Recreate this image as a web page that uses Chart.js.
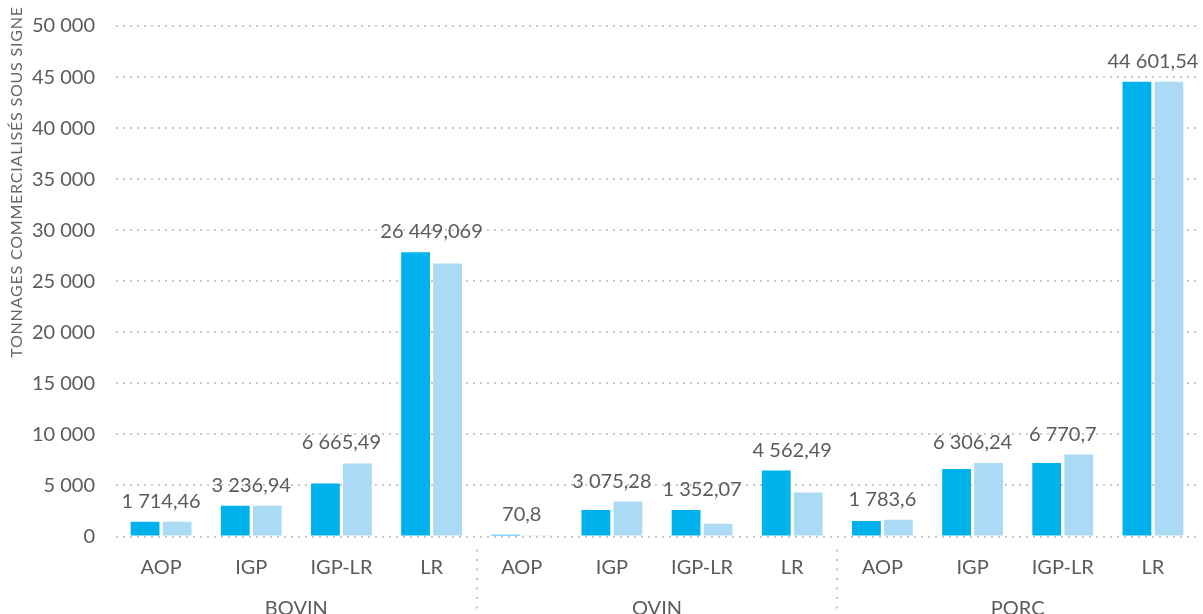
<!DOCTYPE html>
<html><head><meta charset="utf-8">
<script src="https://cdn.jsdelivr.net/npm/chart.js@4"></script>
<style>html,body{margin:0;padding:0;background:#fff}canvas{display:block}</style>
</head><body>
<canvas id="c" width="1203" height="614"></canvas>
<script>
const categories = ['AOP','IGP','IGP-LR','LR','AOP','IGP','IGP-LR','LR','AOP','IGP','IGP-LR','LR'];
const groups = ['BOVIN','OVIN','PORC'];
const seriesDark  = [1450, 3000, 5180, 27850, 180, 2600, 2600, 6460, 1520, 6620, 7210, 44550];
const seriesLight = [1450, 3000, 7150, 26740, 70, 3420, 1250, 4300, 1650, 7210, 8030, 44550];
const valueLabels = [1714.46, 3236.94, 6665.49, 26449.069, 70.8, 3075.28, 1352.07, 4562.49, 1783.6, 6306.24, 6770.7, 44601.54];
const yTickValues = [0, 5000, 10000, 15000, 20000, 25000, 30000, 35000, 40000, 45000, 50000];
const yTitle = 'TONNAGES COMMERCIALISÉS SOUS SIGNE';

const FONT = 'Lato';
const FS = 20;
const TEXT = '#5b5b5b';

function frNum(v){
  const s = String(v).split('.');
  const int = s[0].replace(/\B(?=(\d{3})+(?!\d))/g, ' ');
  return s.length > 1 ? int + ',' + s[1] : int;
}

const labelPlugin = {
  id: 'valueLabels',
  afterDatasetsDraw(chart){
    const ctx = chart.ctx;
    const m0 = chart.getDatasetMeta(0), m1 = chart.getDatasetMeta(1);
    ctx.save();
    ctx.font = FS + 'px ' + FONT;
    ctx.fillStyle = TEXT;
    ctx.textAlign = 'center';
    ctx.textBaseline = 'alphabetic';
    valueLabels.forEach((v,i)=>{
      const b0 = m0.data[i], b1 = m1.data[i];
      const top = Math.min(b0.y, b1.y);
      const x = (b0.x + b1.x)/2;
      ctx.fillText(frNum(v), x, top - 14);
    });
    ctx.restore();
  }
};

const decorPlugin = {
  id: 'decor',
  afterDraw(chart){
    const ctx = chart.ctx;
    const xs = chart.scales.x;
    ctx.save();
    ctx.strokeStyle = '#c4c4c4';
    ctx.lineWidth = 2;
    ctx.setLineDash([2, 7.5]);
    [4, 8].forEach(i=>{
      const x = Math.round((xs.getPixelForTick(i-1) + xs.getPixelForTick(i))/2);
      ctx.beginPath();
      ctx.moveTo(x, xs.top + 13);
      ctx.lineTo(x, chart.height);
      ctx.stroke();
    });
    ctx.setLineDash([]);
    ctx.translate(17, 182);
    ctx.rotate(-Math.PI/2);
    ctx.font = '16px ' + FONT;
    ctx.letterSpacing = '0.8px';
    ctx.fillStyle = '#666';
    ctx.textAlign = 'center';
    ctx.textBaseline = 'middle';
    ctx.fillText(yTitle, 0, 0);
    ctx.restore();
  }
};

new Chart(document.getElementById('c'), {
  type: 'bar',
  data: {
    labels: categories,
    datasets: [
      { label: 'A', data: seriesDark, backgroundColor: '#00B2EB', categoryPercentage: 0.71, barPercentage: 0.9 },
      { label: 'B', data: seriesLight, backgroundColor: '#ABDAF5', categoryPercentage: 0.71, barPercentage: 0.9 }
    ]
  },
  options: {
    responsive: false,
    animation: false,
    layout: { padding: { top: 26, right: 5, left: 0, bottom: 0 } },
    plugins: { legend: { display: false }, tooltip: { enabled: false } },
    scales: {
      y: {
        min: 0, max: 50000,
        afterBuildTicks(s){ s.ticks = yTickValues.map(v=>({value: v})); },
        afterFit(s){ s.width = 116; s.paddingTop = 0; s.paddingBottom = 0; },
        border: { display: false, dash: [2, 5] },
        grid: { color: '#c8c8c8', lineWidth: 2, drawTicks: false },
        ticks: { padding: 21, color: TEXT, font: { family: FONT, size: FS }, callback: v => frNum(v) }
      },
      x: {
        border: { display: false },
        grid: { display: false },
        afterFit(s){ s.height = 48; },
        ticks: { padding: 11, color: TEXT, font: { family: FONT, size: FS }, autoSkip: false, maxRotation: 0 }
      },
      x2: {
        type: 'category',
        labels: groups,
        offset: true,
        position: 'bottom',
        border: { display: false },
        grid: { display: false },
        afterFit(s){ s.height = 29.5; },
        ticks: { padding: 4, color: TEXT, font: { family: FONT, size: FS }, autoSkip: false, maxRotation: 0 }
      }
    }
  },
  plugins: [labelPlugin, decorPlugin]
});
</script>
</body></html>
